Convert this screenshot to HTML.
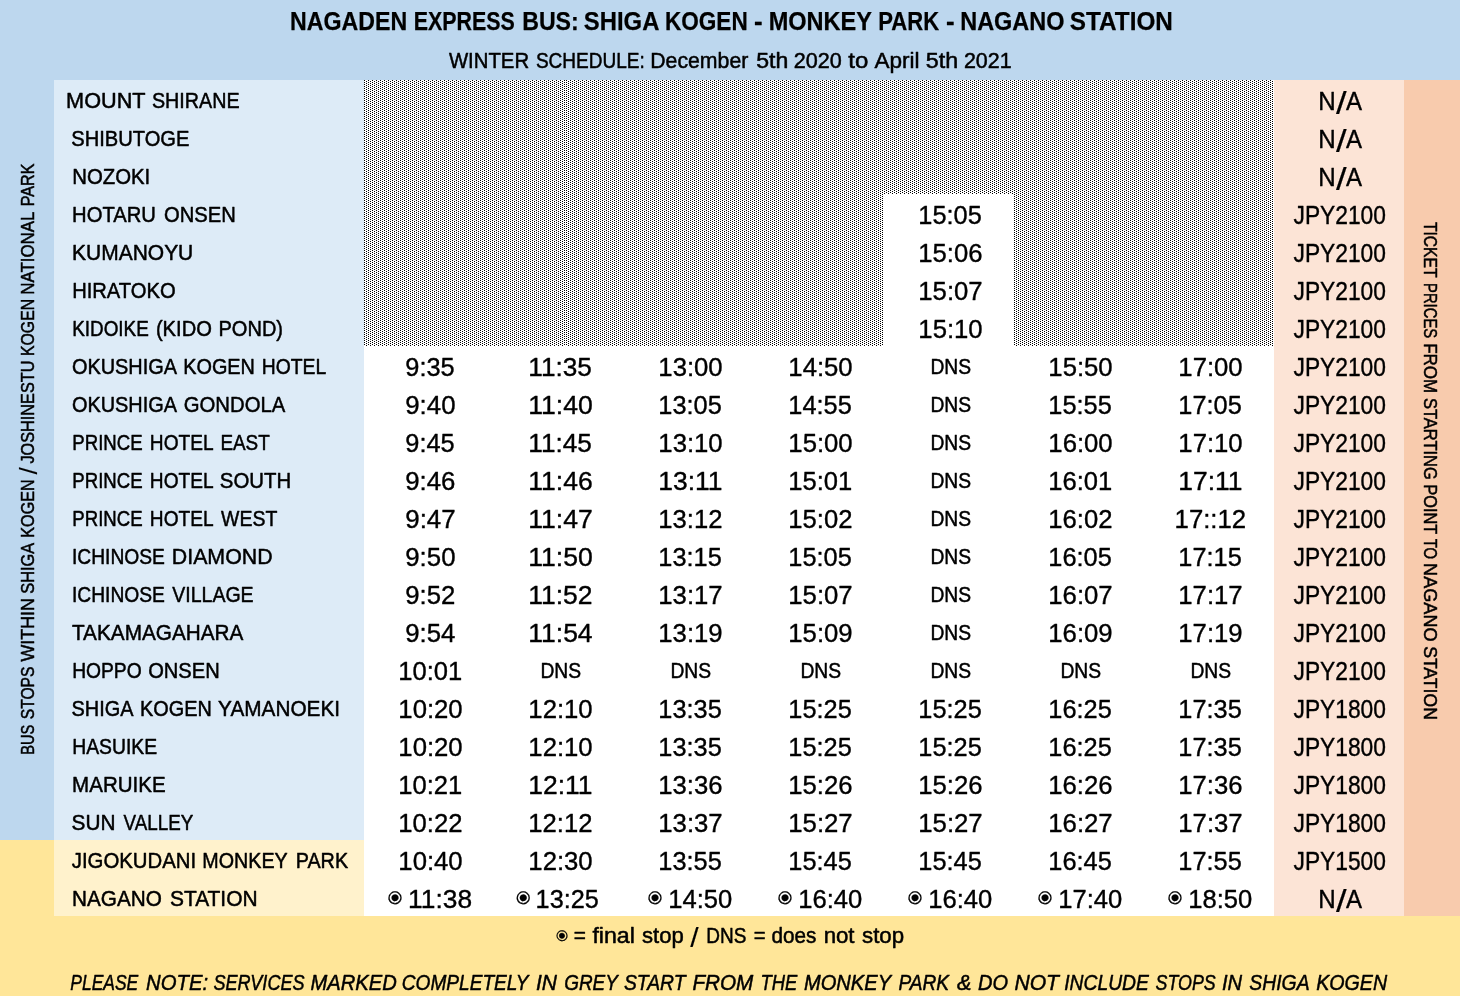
<!DOCTYPE html>
<html lang="en"><head><meta charset="utf-8"><title>Nagaden Express Bus: Shiga Kogen - Monkey Park - Nagano Station</title>
<style>html,body{margin:0;padding:0;background:#fff;overflow:hidden}svg{display:block;will-change:transform}text{fill:#000;white-space:pre}.sR,.sI{stroke:#000;stroke-width:0.5;stroke-linejoin:round}.sB{stroke:#000;stroke-width:0.25;stroke-linejoin:round}.sD{stroke:#000;stroke-width:0.2}.sT{stroke-width:0.38}.ns{stroke-width:0.15}</style></head><body>
<svg width="1460" height="996" viewBox="0 0 1460 996">
<defs><pattern id="dots" x="0" y="0" width="4" height="2" patternUnits="userSpaceOnUse"><rect x="0" y="0" width="1" height="1" fill="#000"/><rect x="2" y="1" width="1" height="1" fill="#000"/></pattern><pattern id="dots2" x="2" y="0" width="4" height="2" patternUnits="userSpaceOnUse"><rect x="0" y="0" width="1" height="1" fill="#000"/><rect x="2" y="1" width="1" height="1" fill="#000"/></pattern></defs>
<rect x="0" y="0" width="1460" height="996" fill="#BDD7EE"/>
<rect x="0" y="840" width="1460" height="156" fill="#FFE699"/>
<rect x="54" y="80" width="310" height="760" fill="#DDEBF7"/>
<rect x="54" y="840" width="310" height="76" fill="#FFF2CC"/>
<rect x="364" y="80" width="910" height="836" fill="#FFFFFF"/>
<rect x="1274" y="80" width="130" height="836" fill="#FCE4D6"/>
<rect x="1404" y="80" width="56" height="836" fill="#F8CBAD"/>
<rect x="364" y="80" width="202" height="266" fill="url(#dots)" shape-rendering="crispEdges"/>
<rect x="566" y="80" width="318" height="266" fill="url(#dots2)" shape-rendering="crispEdges"/>
<rect x="884" y="80" width="130" height="114" fill="url(#dots2)" shape-rendering="crispEdges"/>
<rect x="1014" y="80" width="260" height="266" fill="url(#dots2)" shape-rendering="crispEdges"/>
<text id="title" y="29.77" font-family="'Liberation Sans', sans-serif" font-size="25.75" xml:space="preserve" font-weight="bold" class="sB"><tspan x="290.08" textLength="123.52" lengthAdjust="spacingAndGlyphs">NAGADEN </tspan><tspan x="413.69" textLength="107.09" lengthAdjust="spacingAndGlyphs">EXPRESS </tspan><tspan x="522.18" textLength="63.04" lengthAdjust="spacingAndGlyphs">BUS: </tspan><tspan x="583.86" textLength="81.23" lengthAdjust="spacingAndGlyphs">SHIGA </tspan><tspan x="664.91" textLength="89.13" lengthAdjust="spacingAndGlyphs">KOGEN </tspan><tspan x="754.14" textLength="15.86" lengthAdjust="spacingAndGlyphs">- </tspan><tspan x="768.65" textLength="109.39" lengthAdjust="spacingAndGlyphs">MONKEY </tspan><tspan x="878.24" textLength="67.03" lengthAdjust="spacingAndGlyphs">PARK </tspan><tspan x="945.94" textLength="15.86" lengthAdjust="spacingAndGlyphs">- </tspan><tspan x="960.26" textLength="110.76" lengthAdjust="spacingAndGlyphs">NAGANO </tspan><tspan x="1069.84" textLength="102.99" lengthAdjust="spacingAndGlyphs">STATION</tspan></text>
<text id="sub" y="67.70" font-family="'Liberation Sans', sans-serif" font-size="21.82" xml:space="preserve" class="sR"><tspan x="448.89" textLength="85.85" lengthAdjust="spacingAndGlyphs">WINTER </tspan><tspan x="535.92" textLength="114.18" lengthAdjust="spacingAndGlyphs">SCHEDULE: </tspan><tspan x="650.21" textLength="104.01" lengthAdjust="spacingAndGlyphs">December </tspan><tspan x="756.17" textLength="38.48" lengthAdjust="spacingAndGlyphs">5th </tspan><tspan x="793.83" textLength="54.03" lengthAdjust="spacingAndGlyphs">2020 </tspan><tspan x="848.29" textLength="26.68" lengthAdjust="spacingAndGlyphs">to </tspan><tspan x="874.48" textLength="51.31" lengthAdjust="spacingAndGlyphs">April </tspan><tspan x="925.76" textLength="38.86" lengthAdjust="spacingAndGlyphs">5th </tspan><tspan x="963.94" textLength="47.66" lengthAdjust="spacingAndGlyphs">2021</tspan></text>
<text id="n0" y="107.70" font-family="'Liberation Sans', sans-serif" font-size="21.82" xml:space="preserve" class="sR"><tspan x="66.08" textLength="85.08" lengthAdjust="spacingAndGlyphs">MOUNT </tspan><tspan x="151.89" textLength="87.73" lengthAdjust="spacingAndGlyphs">SHIRANE</tspan></text>
<text id="n1" x="65.74" y="145.70" font-family="'Liberation Sans', sans-serif" font-size="21.82" xml:space="preserve" class="sR" textLength="123.69" lengthAdjust="spacingAndGlyphs"> SHIBUTOGE</text>
<text id="n2" x="66.58" y="183.70" font-family="'Liberation Sans', sans-serif" font-size="21.82" xml:space="preserve" class="sR" textLength="83.64" lengthAdjust="spacingAndGlyphs"> NOZOKI</text>
<text id="n3" y="221.70" font-family="'Liberation Sans', sans-serif" font-size="21.82" xml:space="preserve" class="sR"><tspan x="72.08" textLength="89.50" lengthAdjust="spacingAndGlyphs">HOTARU </tspan><tspan x="164.03" textLength="71.82" lengthAdjust="spacingAndGlyphs">ONSEN</tspan></text>
<text id="n4" x="66.26" y="259.70" font-family="'Liberation Sans', sans-serif" font-size="21.82" xml:space="preserve" class="sR" textLength="127.02" lengthAdjust="spacingAndGlyphs"> KUMANOYU</text>
<text id="n5" x="66.54" y="297.70" font-family="'Liberation Sans', sans-serif" font-size="21.82" xml:space="preserve" class="sR" textLength="109.09" lengthAdjust="spacingAndGlyphs"> HIRATOKO</text>
<text id="n6" y="335.70" font-family="'Liberation Sans', sans-serif" font-size="21.82" xml:space="preserve" class="sR"><tspan x="72.18" textLength="81.87" lengthAdjust="spacingAndGlyphs">KIDOIKE </tspan><tspan x="155.91" textLength="61.56" lengthAdjust="spacingAndGlyphs">(KIDO </tspan><tspan x="218.50" textLength="64.54" lengthAdjust="spacingAndGlyphs">POND)</tspan></text>
<text id="n7" y="373.70" font-family="'Liberation Sans', sans-serif" font-size="21.82" xml:space="preserve" class="sR"><tspan x="71.94" textLength="109.53" lengthAdjust="spacingAndGlyphs">OKUSHIGA </tspan><tspan x="183.21" textLength="77.19" lengthAdjust="spacingAndGlyphs">KOGEN </tspan><tspan x="261.75" textLength="64.42" lengthAdjust="spacingAndGlyphs">HOTEL</tspan></text>
<text id="n8" y="411.70" font-family="'Liberation Sans', sans-serif" font-size="21.82" xml:space="preserve" class="sR"><tspan x="71.94" textLength="109.53" lengthAdjust="spacingAndGlyphs">OKUSHIGA </tspan><tspan x="183.75" textLength="101.53" lengthAdjust="spacingAndGlyphs">GONDOLA</tspan></text>
<text id="n9" y="449.70" font-family="'Liberation Sans', sans-serif" font-size="21.82" xml:space="preserve" class="sR"><tspan x="72.30" textLength="75.52" lengthAdjust="spacingAndGlyphs">PRINCE </tspan><tspan x="149.86" textLength="68.30" lengthAdjust="spacingAndGlyphs">HOTEL </tspan><tspan x="220.38" textLength="49.34" lengthAdjust="spacingAndGlyphs">EAST</tspan></text>
<text id="n10" y="487.70" font-family="'Liberation Sans', sans-serif" font-size="21.82" xml:space="preserve" class="sR"><tspan x="72.30" textLength="75.52" lengthAdjust="spacingAndGlyphs">PRINCE </tspan><tspan x="149.86" textLength="68.30" lengthAdjust="spacingAndGlyphs">HOTEL </tspan><tspan x="219.86" textLength="71.31" lengthAdjust="spacingAndGlyphs">SOUTH</tspan></text>
<text id="n11" y="525.70" font-family="'Liberation Sans', sans-serif" font-size="21.82" xml:space="preserve" class="sR"><tspan x="72.30" textLength="75.52" lengthAdjust="spacingAndGlyphs">PRINCE </tspan><tspan x="149.86" textLength="68.30" lengthAdjust="spacingAndGlyphs">HOTEL </tspan><tspan x="221.09" textLength="56.26" lengthAdjust="spacingAndGlyphs">WEST</tspan></text>
<text id="n12" y="563.70" font-family="'Liberation Sans', sans-serif" font-size="21.82" xml:space="preserve" class="sR"><tspan x="71.92" textLength="98.39" lengthAdjust="spacingAndGlyphs">ICHINOSE </tspan><tspan x="171.81" textLength="100.76" lengthAdjust="spacingAndGlyphs">DIAMOND</tspan></text>
<text id="n13" y="601.70" font-family="'Liberation Sans', sans-serif" font-size="21.82" xml:space="preserve" class="sR"><tspan x="71.92" textLength="98.39" lengthAdjust="spacingAndGlyphs">ICHINOSE </tspan><tspan x="172.25" textLength="81.34" lengthAdjust="spacingAndGlyphs">VILLAGE</tspan></text>
<text id="n14" x="66.59" y="639.70" font-family="'Liberation Sans', sans-serif" font-size="21.82" xml:space="preserve" class="sR" textLength="176.86" lengthAdjust="spacingAndGlyphs"> TAKAMAGAHARA</text>
<text id="n15" y="677.70" font-family="'Liberation Sans', sans-serif" font-size="21.82" xml:space="preserve" class="sR"><tspan x="72.15" textLength="74.90" lengthAdjust="spacingAndGlyphs">HOPPO </tspan><tspan x="148.13" textLength="71.61" lengthAdjust="spacingAndGlyphs">ONSEN</tspan></text>
<text id="n16" y="715.70" font-family="'Liberation Sans', sans-serif" font-size="21.82" xml:space="preserve" class="sR"><tspan x="71.58" textLength="66.40" lengthAdjust="spacingAndGlyphs">SHIGA </tspan><tspan x="140.11" textLength="77.19" lengthAdjust="spacingAndGlyphs">KOGEN </tspan><tspan x="218.10" textLength="122.01" lengthAdjust="spacingAndGlyphs">YAMANOEKI</tspan></text>
<text id="n17" x="66.83" y="753.70" font-family="'Liberation Sans', sans-serif" font-size="21.82" xml:space="preserve" class="sR" textLength="90.25" lengthAdjust="spacingAndGlyphs"> HASUIKE</text>
<text id="n18" x="66.42" y="791.70" font-family="'Liberation Sans', sans-serif" font-size="21.82" xml:space="preserve" class="sR" textLength="99.20" lengthAdjust="spacingAndGlyphs"> MARUIKE</text>
<text id="n19" y="829.70" font-family="'Liberation Sans', sans-serif" font-size="21.82" xml:space="preserve" class="sR"><tspan x="71.55" textLength="49.68" lengthAdjust="spacingAndGlyphs">SUN </tspan><tspan x="123.55" textLength="69.73" lengthAdjust="spacingAndGlyphs">VALLEY</tspan></text>
<text id="n20" y="867.70" font-family="'Liberation Sans', sans-serif" font-size="21.82" xml:space="preserve" class="sR"><tspan x="71.77" textLength="129.93" lengthAdjust="spacingAndGlyphs">JIGOKUDANI </tspan><tspan x="202.32" textLength="90.55" lengthAdjust="spacingAndGlyphs">MONKEY </tspan><tspan x="295.72" textLength="52.34" lengthAdjust="spacingAndGlyphs">PARK</tspan></text>
<text id="n21" y="905.70" font-family="'Liberation Sans', sans-serif" font-size="21.82" xml:space="preserve" class="sR"><tspan x="72.05" textLength="95.64" lengthAdjust="spacingAndGlyphs">NAGANO </tspan><tspan x="169.94" textLength="87.61" lengthAdjust="spacingAndGlyphs">STATION</tspan></text>
<text id="t3_4" x="918.35" y="223.65" font-family="'Liberation Sans', sans-serif" font-size="25.82" xml:space="preserve" class="sR sT" textLength="63.43" lengthAdjust="spacingAndGlyphs">15:05</text>
<text id="t4_4" x="918.33" y="261.65" font-family="'Liberation Sans', sans-serif" font-size="25.82" xml:space="preserve" class="sR sT" textLength="64.20" lengthAdjust="spacingAndGlyphs">15:06</text>
<text id="t5_4" x="918.32" y="299.65" font-family="'Liberation Sans', sans-serif" font-size="25.82" xml:space="preserve" class="sR sT" textLength="64.38" lengthAdjust="spacingAndGlyphs">15:07</text>
<text id="t6_4" x="918.33" y="337.65" font-family="'Liberation Sans', sans-serif" font-size="25.82" xml:space="preserve" class="sR sT" textLength="64.36" lengthAdjust="spacingAndGlyphs">15:10</text>
<text id="t7_0" x="405.30" y="375.65" font-family="'Liberation Sans', sans-serif" font-size="25.82" xml:space="preserve" class="sR sT" textLength="49.39" lengthAdjust="spacingAndGlyphs">9:35</text>
<text id="t7_1" x="528.29" y="375.65" font-family="'Liberation Sans', sans-serif" font-size="25.82" xml:space="preserve" class="sR sT" textLength="63.59" lengthAdjust="spacingAndGlyphs">11:35</text>
<text id="t7_2" x="658.33" y="375.65" font-family="'Liberation Sans', sans-serif" font-size="25.82" xml:space="preserve" class="sR sT" textLength="64.36" lengthAdjust="spacingAndGlyphs">13:00</text>
<text id="t7_3" x="788.33" y="375.65" font-family="'Liberation Sans', sans-serif" font-size="25.82" xml:space="preserve" class="sR sT" textLength="64.36" lengthAdjust="spacingAndGlyphs">14:50</text>
<text id="t7_4" x="930.40" y="373.70" font-family="'Liberation Sans', sans-serif" font-size="21.82" xml:space="preserve" class="sR" textLength="40.72" lengthAdjust="spacingAndGlyphs">DNS</text>
<text id="t7_5" x="1048.33" y="375.65" font-family="'Liberation Sans', sans-serif" font-size="25.82" xml:space="preserve" class="sR sT" textLength="64.36" lengthAdjust="spacingAndGlyphs">15:50</text>
<text id="t7_6" x="1178.33" y="375.65" font-family="'Liberation Sans', sans-serif" font-size="25.82" xml:space="preserve" class="sR sT" textLength="64.36" lengthAdjust="spacingAndGlyphs">17:00</text>
<text id="t8_0" x="405.28" y="413.65" font-family="'Liberation Sans', sans-serif" font-size="25.82" xml:space="preserve" class="sR sT" textLength="50.25" lengthAdjust="spacingAndGlyphs">9:40</text>
<text id="t8_1" x="528.27" y="413.65" font-family="'Liberation Sans', sans-serif" font-size="25.82" xml:space="preserve" class="sR sT" textLength="64.52" lengthAdjust="spacingAndGlyphs">11:40</text>
<text id="t8_2" x="658.35" y="413.65" font-family="'Liberation Sans', sans-serif" font-size="25.82" xml:space="preserve" class="sR sT" textLength="63.43" lengthAdjust="spacingAndGlyphs">13:05</text>
<text id="t8_3" x="788.35" y="413.65" font-family="'Liberation Sans', sans-serif" font-size="25.82" xml:space="preserve" class="sR sT" textLength="63.43" lengthAdjust="spacingAndGlyphs">14:55</text>
<text id="t8_4" x="930.40" y="411.70" font-family="'Liberation Sans', sans-serif" font-size="21.82" xml:space="preserve" class="sR" textLength="40.72" lengthAdjust="spacingAndGlyphs">DNS</text>
<text id="t8_5" x="1048.35" y="413.65" font-family="'Liberation Sans', sans-serif" font-size="25.82" xml:space="preserve" class="sR sT" textLength="63.43" lengthAdjust="spacingAndGlyphs">15:55</text>
<text id="t8_6" x="1178.35" y="413.65" font-family="'Liberation Sans', sans-serif" font-size="25.82" xml:space="preserve" class="sR sT" textLength="63.43" lengthAdjust="spacingAndGlyphs">17:05</text>
<text id="t9_0" x="405.30" y="451.65" font-family="'Liberation Sans', sans-serif" font-size="25.82" xml:space="preserve" class="sR sT" textLength="49.39" lengthAdjust="spacingAndGlyphs">9:45</text>
<text id="t9_1" x="528.29" y="451.65" font-family="'Liberation Sans', sans-serif" font-size="25.82" xml:space="preserve" class="sR sT" textLength="63.59" lengthAdjust="spacingAndGlyphs">11:45</text>
<text id="t9_2" x="658.33" y="451.65" font-family="'Liberation Sans', sans-serif" font-size="25.82" xml:space="preserve" class="sR sT" textLength="64.36" lengthAdjust="spacingAndGlyphs">13:10</text>
<text id="t9_3" x="788.33" y="451.65" font-family="'Liberation Sans', sans-serif" font-size="25.82" xml:space="preserve" class="sR sT" textLength="64.36" lengthAdjust="spacingAndGlyphs">15:00</text>
<text id="t9_4" x="930.40" y="449.70" font-family="'Liberation Sans', sans-serif" font-size="21.82" xml:space="preserve" class="sR" textLength="40.72" lengthAdjust="spacingAndGlyphs">DNS</text>
<text id="t9_5" x="1048.33" y="451.65" font-family="'Liberation Sans', sans-serif" font-size="25.82" xml:space="preserve" class="sR sT" textLength="64.36" lengthAdjust="spacingAndGlyphs">16:00</text>
<text id="t9_6" x="1178.33" y="451.65" font-family="'Liberation Sans', sans-serif" font-size="25.82" xml:space="preserve" class="sR sT" textLength="64.36" lengthAdjust="spacingAndGlyphs">17:10</text>
<text id="t10_0" x="405.28" y="489.65" font-family="'Liberation Sans', sans-serif" font-size="25.82" xml:space="preserve" class="sR sT" textLength="50.15" lengthAdjust="spacingAndGlyphs">9:46</text>
<text id="t10_1" x="528.27" y="489.65" font-family="'Liberation Sans', sans-serif" font-size="25.82" xml:space="preserve" class="sR sT" textLength="64.37" lengthAdjust="spacingAndGlyphs">11:46</text>
<text id="t10_2" x="658.28" y="489.65" font-family="'Liberation Sans', sans-serif" font-size="25.82" xml:space="preserve" class="sR sT" textLength="64.14" lengthAdjust="spacingAndGlyphs">13:11</text>
<text id="t10_3" x="788.34" y="489.65" font-family="'Liberation Sans', sans-serif" font-size="25.82" xml:space="preserve" class="sR sT" textLength="63.97" lengthAdjust="spacingAndGlyphs">15:01</text>
<text id="t10_4" x="930.40" y="487.70" font-family="'Liberation Sans', sans-serif" font-size="21.82" xml:space="preserve" class="sR" textLength="40.72" lengthAdjust="spacingAndGlyphs">DNS</text>
<text id="t10_5" x="1048.34" y="489.65" font-family="'Liberation Sans', sans-serif" font-size="25.82" xml:space="preserve" class="sR sT" textLength="63.97" lengthAdjust="spacingAndGlyphs">16:01</text>
<text id="t10_6" x="1178.28" y="489.65" font-family="'Liberation Sans', sans-serif" font-size="25.82" xml:space="preserve" class="sR sT" textLength="64.14" lengthAdjust="spacingAndGlyphs">17:11</text>
<text id="t11_0" x="405.28" y="527.65" font-family="'Liberation Sans', sans-serif" font-size="25.82" xml:space="preserve" class="sR sT" textLength="50.38" lengthAdjust="spacingAndGlyphs">9:47</text>
<text id="t11_1" x="528.27" y="527.65" font-family="'Liberation Sans', sans-serif" font-size="25.82" xml:space="preserve" class="sR sT" textLength="64.55" lengthAdjust="spacingAndGlyphs">11:47</text>
<text id="t11_2" x="658.33" y="527.65" font-family="'Liberation Sans', sans-serif" font-size="25.82" xml:space="preserve" class="sR sT" textLength="64.10" lengthAdjust="spacingAndGlyphs">13:12</text>
<text id="t11_3" x="788.33" y="527.65" font-family="'Liberation Sans', sans-serif" font-size="25.82" xml:space="preserve" class="sR sT" textLength="64.10" lengthAdjust="spacingAndGlyphs">15:02</text>
<text id="t11_4" x="930.40" y="525.70" font-family="'Liberation Sans', sans-serif" font-size="21.82" xml:space="preserve" class="sR" textLength="40.72" lengthAdjust="spacingAndGlyphs">DNS</text>
<text id="t11_5" x="1048.33" y="527.65" font-family="'Liberation Sans', sans-serif" font-size="25.82" xml:space="preserve" class="sR sT" textLength="64.10" lengthAdjust="spacingAndGlyphs">16:02</text>
<text id="t11_6" x="1174.58" y="527.65" font-family="'Liberation Sans', sans-serif" font-size="25.82" xml:space="preserve" class="sR sT" textLength="71.54" lengthAdjust="spacingAndGlyphs">17::12</text>
<text id="t12_0" x="405.28" y="565.65" font-family="'Liberation Sans', sans-serif" font-size="25.82" xml:space="preserve" class="sR sT" textLength="50.25" lengthAdjust="spacingAndGlyphs">9:50</text>
<text id="t12_1" x="528.27" y="565.65" font-family="'Liberation Sans', sans-serif" font-size="25.82" xml:space="preserve" class="sR sT" textLength="64.52" lengthAdjust="spacingAndGlyphs">11:50</text>
<text id="t12_2" x="658.35" y="565.65" font-family="'Liberation Sans', sans-serif" font-size="25.82" xml:space="preserve" class="sR sT" textLength="63.43" lengthAdjust="spacingAndGlyphs">13:15</text>
<text id="t12_3" x="788.35" y="565.65" font-family="'Liberation Sans', sans-serif" font-size="25.82" xml:space="preserve" class="sR sT" textLength="63.43" lengthAdjust="spacingAndGlyphs">15:05</text>
<text id="t12_4" x="930.40" y="563.70" font-family="'Liberation Sans', sans-serif" font-size="21.82" xml:space="preserve" class="sR" textLength="40.72" lengthAdjust="spacingAndGlyphs">DNS</text>
<text id="t12_5" x="1048.35" y="565.65" font-family="'Liberation Sans', sans-serif" font-size="25.82" xml:space="preserve" class="sR sT" textLength="63.43" lengthAdjust="spacingAndGlyphs">16:05</text>
<text id="t12_6" x="1178.35" y="565.65" font-family="'Liberation Sans', sans-serif" font-size="25.82" xml:space="preserve" class="sR sT" textLength="63.43" lengthAdjust="spacingAndGlyphs">17:15</text>
<text id="t13_0" x="405.28" y="603.65" font-family="'Liberation Sans', sans-serif" font-size="25.82" xml:space="preserve" class="sR sT" textLength="50.07" lengthAdjust="spacingAndGlyphs">9:52</text>
<text id="t13_1" x="528.27" y="603.65" font-family="'Liberation Sans', sans-serif" font-size="25.82" xml:space="preserve" class="sR sT" textLength="64.27" lengthAdjust="spacingAndGlyphs">11:52</text>
<text id="t13_2" x="658.32" y="603.65" font-family="'Liberation Sans', sans-serif" font-size="25.82" xml:space="preserve" class="sR sT" textLength="64.38" lengthAdjust="spacingAndGlyphs">13:17</text>
<text id="t13_3" x="788.32" y="603.65" font-family="'Liberation Sans', sans-serif" font-size="25.82" xml:space="preserve" class="sR sT" textLength="64.38" lengthAdjust="spacingAndGlyphs">15:07</text>
<text id="t13_4" x="930.40" y="601.70" font-family="'Liberation Sans', sans-serif" font-size="21.82" xml:space="preserve" class="sR" textLength="40.72" lengthAdjust="spacingAndGlyphs">DNS</text>
<text id="t13_5" x="1048.32" y="603.65" font-family="'Liberation Sans', sans-serif" font-size="25.82" xml:space="preserve" class="sR sT" textLength="64.38" lengthAdjust="spacingAndGlyphs">16:07</text>
<text id="t13_6" x="1178.32" y="603.65" font-family="'Liberation Sans', sans-serif" font-size="25.82" xml:space="preserve" class="sR sT" textLength="64.38" lengthAdjust="spacingAndGlyphs">17:17</text>
<text id="t14_0" x="405.28" y="641.65" font-family="'Liberation Sans', sans-serif" font-size="25.82" xml:space="preserve" class="sR sT" textLength="50.16" lengthAdjust="spacingAndGlyphs">9:54</text>
<text id="t14_1" x="528.27" y="641.65" font-family="'Liberation Sans', sans-serif" font-size="25.82" xml:space="preserve" class="sR sT" textLength="64.34" lengthAdjust="spacingAndGlyphs">11:54</text>
<text id="t14_2" x="658.33" y="641.65" font-family="'Liberation Sans', sans-serif" font-size="25.82" xml:space="preserve" class="sR sT" textLength="64.27" lengthAdjust="spacingAndGlyphs">13:19</text>
<text id="t14_3" x="788.33" y="641.65" font-family="'Liberation Sans', sans-serif" font-size="25.82" xml:space="preserve" class="sR sT" textLength="64.27" lengthAdjust="spacingAndGlyphs">15:09</text>
<text id="t14_4" x="930.40" y="639.70" font-family="'Liberation Sans', sans-serif" font-size="21.82" xml:space="preserve" class="sR" textLength="40.72" lengthAdjust="spacingAndGlyphs">DNS</text>
<text id="t14_5" x="1048.33" y="641.65" font-family="'Liberation Sans', sans-serif" font-size="25.82" xml:space="preserve" class="sR sT" textLength="64.27" lengthAdjust="spacingAndGlyphs">16:09</text>
<text id="t14_6" x="1178.33" y="641.65" font-family="'Liberation Sans', sans-serif" font-size="25.82" xml:space="preserve" class="sR sT" textLength="64.27" lengthAdjust="spacingAndGlyphs">17:19</text>
<text id="t15_0" x="398.34" y="679.65" font-family="'Liberation Sans', sans-serif" font-size="25.82" xml:space="preserve" class="sR sT" textLength="63.97" lengthAdjust="spacingAndGlyphs">10:01</text>
<text id="t15_1" x="540.40" y="677.70" font-family="'Liberation Sans', sans-serif" font-size="21.82" xml:space="preserve" class="sR" textLength="40.72" lengthAdjust="spacingAndGlyphs">DNS</text>
<text id="t15_2" x="670.40" y="677.70" font-family="'Liberation Sans', sans-serif" font-size="21.82" xml:space="preserve" class="sR" textLength="40.72" lengthAdjust="spacingAndGlyphs">DNS</text>
<text id="t15_3" x="800.40" y="677.70" font-family="'Liberation Sans', sans-serif" font-size="21.82" xml:space="preserve" class="sR" textLength="40.72" lengthAdjust="spacingAndGlyphs">DNS</text>
<text id="t15_4" x="930.40" y="677.70" font-family="'Liberation Sans', sans-serif" font-size="21.82" xml:space="preserve" class="sR" textLength="40.72" lengthAdjust="spacingAndGlyphs">DNS</text>
<text id="t15_5" x="1060.40" y="677.70" font-family="'Liberation Sans', sans-serif" font-size="21.82" xml:space="preserve" class="sR" textLength="40.72" lengthAdjust="spacingAndGlyphs">DNS</text>
<text id="t15_6" x="1190.40" y="677.70" font-family="'Liberation Sans', sans-serif" font-size="21.82" xml:space="preserve" class="sR" textLength="40.72" lengthAdjust="spacingAndGlyphs">DNS</text>
<text id="t16_0" x="398.33" y="717.65" font-family="'Liberation Sans', sans-serif" font-size="25.82" xml:space="preserve" class="sR sT" textLength="64.36" lengthAdjust="spacingAndGlyphs">10:20</text>
<text id="t16_1" x="528.33" y="717.65" font-family="'Liberation Sans', sans-serif" font-size="25.82" xml:space="preserve" class="sR sT" textLength="64.36" lengthAdjust="spacingAndGlyphs">12:10</text>
<text id="t16_2" x="658.35" y="717.65" font-family="'Liberation Sans', sans-serif" font-size="25.82" xml:space="preserve" class="sR sT" textLength="63.43" lengthAdjust="spacingAndGlyphs">13:35</text>
<text id="t16_3" x="788.35" y="717.65" font-family="'Liberation Sans', sans-serif" font-size="25.82" xml:space="preserve" class="sR sT" textLength="63.43" lengthAdjust="spacingAndGlyphs">15:25</text>
<text id="t16_4" x="918.35" y="717.65" font-family="'Liberation Sans', sans-serif" font-size="25.82" xml:space="preserve" class="sR sT" textLength="63.43" lengthAdjust="spacingAndGlyphs">15:25</text>
<text id="t16_5" x="1048.35" y="717.65" font-family="'Liberation Sans', sans-serif" font-size="25.82" xml:space="preserve" class="sR sT" textLength="63.43" lengthAdjust="spacingAndGlyphs">16:25</text>
<text id="t16_6" x="1178.35" y="717.65" font-family="'Liberation Sans', sans-serif" font-size="25.82" xml:space="preserve" class="sR sT" textLength="63.43" lengthAdjust="spacingAndGlyphs">17:35</text>
<text id="t17_0" x="398.33" y="755.65" font-family="'Liberation Sans', sans-serif" font-size="25.82" xml:space="preserve" class="sR sT" textLength="64.36" lengthAdjust="spacingAndGlyphs">10:20</text>
<text id="t17_1" x="528.33" y="755.65" font-family="'Liberation Sans', sans-serif" font-size="25.82" xml:space="preserve" class="sR sT" textLength="64.36" lengthAdjust="spacingAndGlyphs">12:10</text>
<text id="t17_2" x="658.35" y="755.65" font-family="'Liberation Sans', sans-serif" font-size="25.82" xml:space="preserve" class="sR sT" textLength="63.43" lengthAdjust="spacingAndGlyphs">13:35</text>
<text id="t17_3" x="788.35" y="755.65" font-family="'Liberation Sans', sans-serif" font-size="25.82" xml:space="preserve" class="sR sT" textLength="63.43" lengthAdjust="spacingAndGlyphs">15:25</text>
<text id="t17_4" x="918.35" y="755.65" font-family="'Liberation Sans', sans-serif" font-size="25.82" xml:space="preserve" class="sR sT" textLength="63.43" lengthAdjust="spacingAndGlyphs">15:25</text>
<text id="t17_5" x="1048.35" y="755.65" font-family="'Liberation Sans', sans-serif" font-size="25.82" xml:space="preserve" class="sR sT" textLength="63.43" lengthAdjust="spacingAndGlyphs">16:25</text>
<text id="t17_6" x="1178.35" y="755.65" font-family="'Liberation Sans', sans-serif" font-size="25.82" xml:space="preserve" class="sR sT" textLength="63.43" lengthAdjust="spacingAndGlyphs">17:35</text>
<text id="t18_0" x="398.34" y="793.65" font-family="'Liberation Sans', sans-serif" font-size="25.82" xml:space="preserve" class="sR sT" textLength="63.97" lengthAdjust="spacingAndGlyphs">10:21</text>
<text id="t18_1" x="528.28" y="793.65" font-family="'Liberation Sans', sans-serif" font-size="25.82" xml:space="preserve" class="sR sT" textLength="64.14" lengthAdjust="spacingAndGlyphs">12:11</text>
<text id="t18_2" x="658.33" y="793.65" font-family="'Liberation Sans', sans-serif" font-size="25.82" xml:space="preserve" class="sR sT" textLength="64.20" lengthAdjust="spacingAndGlyphs">13:36</text>
<text id="t18_3" x="788.33" y="793.65" font-family="'Liberation Sans', sans-serif" font-size="25.82" xml:space="preserve" class="sR sT" textLength="64.20" lengthAdjust="spacingAndGlyphs">15:26</text>
<text id="t18_4" x="918.33" y="793.65" font-family="'Liberation Sans', sans-serif" font-size="25.82" xml:space="preserve" class="sR sT" textLength="64.20" lengthAdjust="spacingAndGlyphs">15:26</text>
<text id="t18_5" x="1048.33" y="793.65" font-family="'Liberation Sans', sans-serif" font-size="25.82" xml:space="preserve" class="sR sT" textLength="64.20" lengthAdjust="spacingAndGlyphs">16:26</text>
<text id="t18_6" x="1178.33" y="793.65" font-family="'Liberation Sans', sans-serif" font-size="25.82" xml:space="preserve" class="sR sT" textLength="64.20" lengthAdjust="spacingAndGlyphs">17:36</text>
<text id="t19_0" x="398.33" y="831.65" font-family="'Liberation Sans', sans-serif" font-size="25.82" xml:space="preserve" class="sR sT" textLength="64.10" lengthAdjust="spacingAndGlyphs">10:22</text>
<text id="t19_1" x="528.33" y="831.65" font-family="'Liberation Sans', sans-serif" font-size="25.82" xml:space="preserve" class="sR sT" textLength="64.10" lengthAdjust="spacingAndGlyphs">12:12</text>
<text id="t19_2" x="658.32" y="831.65" font-family="'Liberation Sans', sans-serif" font-size="25.82" xml:space="preserve" class="sR sT" textLength="64.38" lengthAdjust="spacingAndGlyphs">13:37</text>
<text id="t19_3" x="788.32" y="831.65" font-family="'Liberation Sans', sans-serif" font-size="25.82" xml:space="preserve" class="sR sT" textLength="64.38" lengthAdjust="spacingAndGlyphs">15:27</text>
<text id="t19_4" x="918.32" y="831.65" font-family="'Liberation Sans', sans-serif" font-size="25.82" xml:space="preserve" class="sR sT" textLength="64.38" lengthAdjust="spacingAndGlyphs">15:27</text>
<text id="t19_5" x="1048.32" y="831.65" font-family="'Liberation Sans', sans-serif" font-size="25.82" xml:space="preserve" class="sR sT" textLength="64.38" lengthAdjust="spacingAndGlyphs">16:27</text>
<text id="t19_6" x="1178.32" y="831.65" font-family="'Liberation Sans', sans-serif" font-size="25.82" xml:space="preserve" class="sR sT" textLength="64.38" lengthAdjust="spacingAndGlyphs">17:37</text>
<text id="t20_0" x="398.33" y="869.65" font-family="'Liberation Sans', sans-serif" font-size="25.82" xml:space="preserve" class="sR sT" textLength="64.36" lengthAdjust="spacingAndGlyphs">10:40</text>
<text id="t20_1" x="528.33" y="869.65" font-family="'Liberation Sans', sans-serif" font-size="25.82" xml:space="preserve" class="sR sT" textLength="64.36" lengthAdjust="spacingAndGlyphs">12:30</text>
<text id="t20_2" x="658.35" y="869.65" font-family="'Liberation Sans', sans-serif" font-size="25.82" xml:space="preserve" class="sR sT" textLength="63.43" lengthAdjust="spacingAndGlyphs">13:55</text>
<text id="t20_3" x="788.35" y="869.65" font-family="'Liberation Sans', sans-serif" font-size="25.82" xml:space="preserve" class="sR sT" textLength="63.43" lengthAdjust="spacingAndGlyphs">15:45</text>
<text id="t20_4" x="918.35" y="869.65" font-family="'Liberation Sans', sans-serif" font-size="25.82" xml:space="preserve" class="sR sT" textLength="63.43" lengthAdjust="spacingAndGlyphs">15:45</text>
<text id="t20_5" x="1048.35" y="869.65" font-family="'Liberation Sans', sans-serif" font-size="25.82" xml:space="preserve" class="sR sT" textLength="63.43" lengthAdjust="spacingAndGlyphs">16:45</text>
<text id="t20_6" x="1178.35" y="869.65" font-family="'Liberation Sans', sans-serif" font-size="25.82" xml:space="preserve" class="sR sT" textLength="63.43" lengthAdjust="spacingAndGlyphs">17:55</text>
<text id="f21_0" x="387.78" y="908.77" font-family="'IPAGothic', 'DejaVu Sans', sans-serif" font-size="29.08" xml:space="preserve" class="sD" textLength="14.54" lengthAdjust="spacingAndGlyphs">◉</text>
<text id="t21_0" x="408.13" y="907.65" font-family="'Liberation Sans', sans-serif" font-size="25.82" xml:space="preserve" class="sR sT" textLength="63.91" lengthAdjust="spacingAndGlyphs">11:38</text>
<text id="f21_1" x="516.08" y="908.77" font-family="'IPAGothic', 'DejaVu Sans', sans-serif" font-size="29.08" xml:space="preserve" class="sD" textLength="14.54" lengthAdjust="spacingAndGlyphs">◉</text>
<text id="t21_1" x="535.61" y="907.65" font-family="'Liberation Sans', sans-serif" font-size="25.82" xml:space="preserve" class="sR sT" textLength="63.16" lengthAdjust="spacingAndGlyphs">13:25</text>
<text id="f21_2" x="647.78" y="908.77" font-family="'IPAGothic', 'DejaVu Sans', sans-serif" font-size="29.08" xml:space="preserve" class="sD" textLength="14.54" lengthAdjust="spacingAndGlyphs">◉</text>
<text id="t21_2" x="668.18" y="907.65" font-family="'Liberation Sans', sans-serif" font-size="25.82" xml:space="preserve" class="sR sT" textLength="64.07" lengthAdjust="spacingAndGlyphs">14:50</text>
<text id="f21_3" x="777.78" y="908.77" font-family="'IPAGothic', 'DejaVu Sans', sans-serif" font-size="29.08" xml:space="preserve" class="sD" textLength="14.54" lengthAdjust="spacingAndGlyphs">◉</text>
<text id="t21_3" x="798.18" y="907.65" font-family="'Liberation Sans', sans-serif" font-size="25.82" xml:space="preserve" class="sR sT" textLength="64.07" lengthAdjust="spacingAndGlyphs">16:40</text>
<text id="f21_4" x="907.78" y="908.77" font-family="'IPAGothic', 'DejaVu Sans', sans-serif" font-size="29.08" xml:space="preserve" class="sD" textLength="14.54" lengthAdjust="spacingAndGlyphs">◉</text>
<text id="t21_4" x="928.18" y="907.65" font-family="'Liberation Sans', sans-serif" font-size="25.82" xml:space="preserve" class="sR sT" textLength="64.07" lengthAdjust="spacingAndGlyphs">16:40</text>
<text id="f21_5" x="1037.78" y="908.77" font-family="'IPAGothic', 'DejaVu Sans', sans-serif" font-size="29.08" xml:space="preserve" class="sD" textLength="14.54" lengthAdjust="spacingAndGlyphs">◉</text>
<text id="t21_5" x="1058.18" y="907.65" font-family="'Liberation Sans', sans-serif" font-size="25.82" xml:space="preserve" class="sR sT" textLength="64.07" lengthAdjust="spacingAndGlyphs">17:40</text>
<text id="f21_6" x="1167.78" y="908.77" font-family="'IPAGothic', 'DejaVu Sans', sans-serif" font-size="29.08" xml:space="preserve" class="sD" textLength="14.54" lengthAdjust="spacingAndGlyphs">◉</text>
<text id="t21_6" x="1188.18" y="907.65" font-family="'Liberation Sans', sans-serif" font-size="25.82" xml:space="preserve" class="sR sT" textLength="64.07" lengthAdjust="spacingAndGlyphs">18:50</text>
<text id="p0" y="109.65" font-family="'Liberation Sans', sans-serif" font-size="25.24" xml:space="preserve" class="sR sT"><tspan x="1318.15" textLength="17.44" lengthAdjust="spacingAndGlyphs">N</tspan><tspan x="1336.04" font-size="31.82" dy="4.01" class="ns" textLength="10.65" lengthAdjust="spacingAndGlyphs">/</tspan><tspan x="1346.09" font-size="25.24" dy="-4.01" textLength="16.03" lengthAdjust="spacingAndGlyphs">A</tspan></text>
<text id="p1" y="147.65" font-family="'Liberation Sans', sans-serif" font-size="25.24" xml:space="preserve" class="sR sT"><tspan x="1318.15" textLength="17.44" lengthAdjust="spacingAndGlyphs">N</tspan><tspan x="1336.04" font-size="31.82" dy="4.01" class="ns" textLength="10.65" lengthAdjust="spacingAndGlyphs">/</tspan><tspan x="1346.09" font-size="25.24" dy="-4.01" textLength="16.03" lengthAdjust="spacingAndGlyphs">A</tspan></text>
<text id="p2" y="185.65" font-family="'Liberation Sans', sans-serif" font-size="25.24" xml:space="preserve" class="sR sT"><tspan x="1318.15" textLength="17.44" lengthAdjust="spacingAndGlyphs">N</tspan><tspan x="1336.04" font-size="31.82" dy="4.01" class="ns" textLength="10.65" lengthAdjust="spacingAndGlyphs">/</tspan><tspan x="1346.09" font-size="25.24" dy="-4.01" textLength="16.03" lengthAdjust="spacingAndGlyphs">A</tspan></text>
<text id="p3" x="1293.53" y="223.65" font-family="'Liberation Sans', sans-serif" font-size="25.24" xml:space="preserve" class="sR sT" textLength="92.44" lengthAdjust="spacingAndGlyphs">JPY2100</text>
<text id="p4" x="1293.53" y="261.65" font-family="'Liberation Sans', sans-serif" font-size="25.24" xml:space="preserve" class="sR sT" textLength="92.44" lengthAdjust="spacingAndGlyphs">JPY2100</text>
<text id="p5" x="1293.53" y="299.65" font-family="'Liberation Sans', sans-serif" font-size="25.24" xml:space="preserve" class="sR sT" textLength="92.44" lengthAdjust="spacingAndGlyphs">JPY2100</text>
<text id="p6" x="1293.53" y="337.65" font-family="'Liberation Sans', sans-serif" font-size="25.24" xml:space="preserve" class="sR sT" textLength="92.44" lengthAdjust="spacingAndGlyphs">JPY2100</text>
<text id="p7" x="1293.53" y="375.65" font-family="'Liberation Sans', sans-serif" font-size="25.24" xml:space="preserve" class="sR sT" textLength="92.44" lengthAdjust="spacingAndGlyphs">JPY2100</text>
<text id="p8" x="1293.53" y="413.65" font-family="'Liberation Sans', sans-serif" font-size="25.24" xml:space="preserve" class="sR sT" textLength="92.44" lengthAdjust="spacingAndGlyphs">JPY2100</text>
<text id="p9" x="1293.53" y="451.65" font-family="'Liberation Sans', sans-serif" font-size="25.24" xml:space="preserve" class="sR sT" textLength="92.44" lengthAdjust="spacingAndGlyphs">JPY2100</text>
<text id="p10" x="1293.53" y="489.65" font-family="'Liberation Sans', sans-serif" font-size="25.24" xml:space="preserve" class="sR sT" textLength="92.44" lengthAdjust="spacingAndGlyphs">JPY2100</text>
<text id="p11" x="1293.53" y="527.65" font-family="'Liberation Sans', sans-serif" font-size="25.24" xml:space="preserve" class="sR sT" textLength="92.44" lengthAdjust="spacingAndGlyphs">JPY2100</text>
<text id="p12" x="1293.53" y="565.65" font-family="'Liberation Sans', sans-serif" font-size="25.24" xml:space="preserve" class="sR sT" textLength="92.44" lengthAdjust="spacingAndGlyphs">JPY2100</text>
<text id="p13" x="1293.53" y="603.65" font-family="'Liberation Sans', sans-serif" font-size="25.24" xml:space="preserve" class="sR sT" textLength="92.44" lengthAdjust="spacingAndGlyphs">JPY2100</text>
<text id="p14" x="1293.53" y="641.65" font-family="'Liberation Sans', sans-serif" font-size="25.24" xml:space="preserve" class="sR sT" textLength="92.44" lengthAdjust="spacingAndGlyphs">JPY2100</text>
<text id="p15" x="1293.53" y="679.65" font-family="'Liberation Sans', sans-serif" font-size="25.24" xml:space="preserve" class="sR sT" textLength="92.44" lengthAdjust="spacingAndGlyphs">JPY2100</text>
<text id="p16" x="1293.53" y="717.65" font-family="'Liberation Sans', sans-serif" font-size="25.24" xml:space="preserve" class="sR sT" textLength="92.44" lengthAdjust="spacingAndGlyphs">JPY1800</text>
<text id="p17" x="1293.53" y="755.65" font-family="'Liberation Sans', sans-serif" font-size="25.24" xml:space="preserve" class="sR sT" textLength="92.44" lengthAdjust="spacingAndGlyphs">JPY1800</text>
<text id="p18" x="1293.53" y="793.65" font-family="'Liberation Sans', sans-serif" font-size="25.24" xml:space="preserve" class="sR sT" textLength="92.44" lengthAdjust="spacingAndGlyphs">JPY1800</text>
<text id="p19" x="1293.53" y="831.65" font-family="'Liberation Sans', sans-serif" font-size="25.24" xml:space="preserve" class="sR sT" textLength="92.44" lengthAdjust="spacingAndGlyphs">JPY1800</text>
<text id="p20" x="1293.53" y="869.65" font-family="'Liberation Sans', sans-serif" font-size="25.24" xml:space="preserve" class="sR sT" textLength="92.44" lengthAdjust="spacingAndGlyphs">JPY1500</text>
<text id="p21" y="907.65" font-family="'Liberation Sans', sans-serif" font-size="25.24" xml:space="preserve" class="sR sT"><tspan x="1318.15" textLength="17.44" lengthAdjust="spacingAndGlyphs">N</tspan><tspan x="1336.04" font-size="31.82" dy="4.01" class="ns" textLength="10.65" lengthAdjust="spacingAndGlyphs">/</tspan><tspan x="1346.09" font-size="25.24" dy="-4.01" textLength="16.03" lengthAdjust="spacingAndGlyphs">A</tspan></text>
<text id="ffoot" x="555.80" y="944.83" font-family="'IPAGothic', 'DejaVu Sans', sans-serif" font-size="24.23" xml:space="preserve" class="sD" textLength="12.12" lengthAdjust="spacingAndGlyphs">◉</text>
<text id="foot" y="943.15" font-family="'Liberation Sans', sans-serif" font-size="21.82" xml:space="preserve" class="sR"><tspan x="573.86" textLength="17.93" lengthAdjust="spacingAndGlyphs">= </tspan><tspan x="592.41" textLength="48.90" lengthAdjust="spacingAndGlyphs">final </tspan><tspan x="642.05" textLength="47.86" lengthAdjust="spacingAndGlyphs">stop </tspan><tspan x="690.34" font-size="28.40" dy="3.53" class="ns" textLength="16.72" lengthAdjust="spacingAndGlyphs">/ </tspan><tspan x="706.27" font-size="21.82" dy="-3.53" textLength="45.42" lengthAdjust="spacingAndGlyphs">DNS </tspan><tspan x="753.83" textLength="17.51" lengthAdjust="spacingAndGlyphs">= </tspan><tspan x="771.42" textLength="50.71" lengthAdjust="spacingAndGlyphs">does </tspan><tspan x="823.65" textLength="37.07" lengthAdjust="spacingAndGlyphs">not </tspan><tspan x="862.04" textLength="42.03" lengthAdjust="spacingAndGlyphs">stop</tspan></text>
<text id="note" y="989.95" font-family="'Liberation Sans', sans-serif" font-size="21.82" xml:space="preserve" font-style="italic" class="sI"><tspan x="70.30" textLength="72.81" lengthAdjust="spacingAndGlyphs">PLEASE </tspan><tspan x="146.11" textLength="67.64" lengthAdjust="spacingAndGlyphs">NOTE: </tspan><tspan x="213.50" textLength="96.04" lengthAdjust="spacingAndGlyphs">SERVICES </tspan><tspan x="310.54" textLength="91.85" lengthAdjust="spacingAndGlyphs">MARKED </tspan><tspan x="401.79" textLength="131.56" lengthAdjust="spacingAndGlyphs">COMPLETELY </tspan><tspan x="536.02" textLength="26.84" lengthAdjust="spacingAndGlyphs">IN </tspan><tspan x="564.21" textLength="58.57" lengthAdjust="spacingAndGlyphs">GREY </tspan><tspan x="623.98" textLength="66.91" lengthAdjust="spacingAndGlyphs">START </tspan><tspan x="692.40" textLength="66.70" lengthAdjust="spacingAndGlyphs">FROM </tspan><tspan x="760.43" textLength="41.85" lengthAdjust="spacingAndGlyphs">THE </tspan><tspan x="803.94" textLength="92.42" lengthAdjust="spacingAndGlyphs">MONKEY </tspan><tspan x="898.47" textLength="55.87" lengthAdjust="spacingAndGlyphs">PARK </tspan><tspan x="956.98" textLength="20.45" lengthAdjust="spacingAndGlyphs">&amp; </tspan><tspan x="978.12" textLength="35.51" lengthAdjust="spacingAndGlyphs">DO </tspan><tspan x="1014.39" textLength="50.50" lengthAdjust="spacingAndGlyphs">NOT </tspan><tspan x="1064.27" textLength="90.00" lengthAdjust="spacingAndGlyphs">INCLUDE </tspan><tspan x="1155.61" textLength="64.96" lengthAdjust="spacingAndGlyphs">STOPS </tspan><tspan x="1221.94" textLength="25.79" lengthAdjust="spacingAndGlyphs">IN </tspan><tspan x="1249.27" textLength="65.03" lengthAdjust="spacingAndGlyphs">SHIGA </tspan><tspan x="1316.23" textLength="70.94" lengthAdjust="spacingAndGlyphs">KOGEN</tspan></text>
<text id="vl" y="0.00" font-family="'Liberation Sans', sans-serif" font-size="18.11" xml:space="preserve" class="sR" transform="translate(33.75 0) rotate(-90)"><tspan x="-754.79" textLength="34.09" lengthAdjust="spacingAndGlyphs">BUS </tspan><tspan x="-719.27" textLength="57.01" lengthAdjust="spacingAndGlyphs">STOPS </tspan><tspan x="-661.48" textLength="68.35" lengthAdjust="spacingAndGlyphs">WITHIN </tspan><tspan x="-593.81" textLength="54.63" lengthAdjust="spacingAndGlyphs">SHIGA </tspan><tspan x="-537.69" textLength="62.92" lengthAdjust="spacingAndGlyphs">KOGEN </tspan><tspan x="-474.58" font-size="24.22" dy="2.95" class="ns" textLength="14.57" lengthAdjust="spacingAndGlyphs">/ </tspan><tspan x="-463.55" font-size="18.11" dy="-2.95" textLength="107.50" lengthAdjust="spacingAndGlyphs">JOSHINESTU </tspan><tspan x="-356.07" textLength="61.69" lengthAdjust="spacingAndGlyphs">KOGEN </tspan><tspan x="-294.74" textLength="87.19" lengthAdjust="spacingAndGlyphs">NATIONAL </tspan><tspan x="-206.29" textLength="42.68" lengthAdjust="spacingAndGlyphs">PARK</tspan></text>
<text id="vr" y="0.00" font-family="'Liberation Sans', sans-serif" font-size="18.11" xml:space="preserve" class="sR" transform="translate(1424.25 0) rotate(90)"><tspan x="221.96" textLength="59.58" lengthAdjust="spacingAndGlyphs">TICKET </tspan><tspan x="283.00" textLength="59.30" lengthAdjust="spacingAndGlyphs">PRICES </tspan><tspan x="343.15" textLength="54.77" lengthAdjust="spacingAndGlyphs">FROM </tspan><tspan x="397.98" textLength="86.50" lengthAdjust="spacingAndGlyphs">STARTING </tspan><tspan x="484.50" textLength="53.98" lengthAdjust="spacingAndGlyphs">POINT </tspan><tspan x="538.63" textLength="24.48" lengthAdjust="spacingAndGlyphs">TO </tspan><tspan x="563.07" textLength="83.65" lengthAdjust="spacingAndGlyphs">NAGANO </tspan><tspan x="646.13" textLength="73.77" lengthAdjust="spacingAndGlyphs">STATION</tspan></text>
</svg></body></html>
